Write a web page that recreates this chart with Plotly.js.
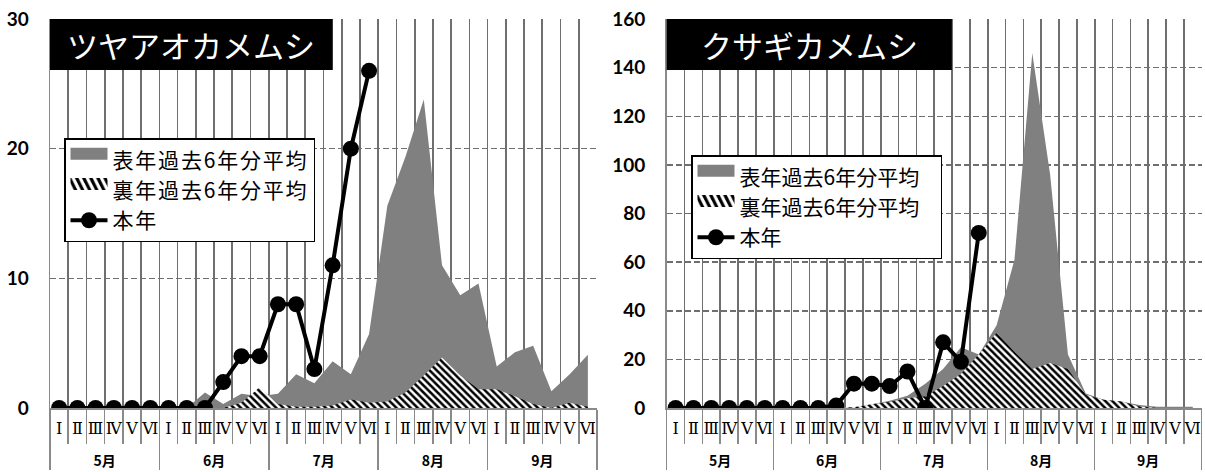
<!DOCTYPE html>
<html><head><meta charset="utf-8">
<script src="https://cdn.plot.ly/plotly-3.0.1.min.js"></script>
<style>html,body{margin:0;padding:0;background:#fff}#chart{width:1205px;height:472px}
.legendfill path{transform:translateY(-6px) scaleY(2);}
.legendtext{letter-spacing:1.8px;}
</style>
</head><body><div id="chart"></div>
<script>
const months = ['5月','6月','7月','8月','9月'];
const romans = ['Ⅰ','Ⅱ','Ⅲ','Ⅳ','Ⅴ','Ⅵ'];
const seriesNames = ['表年過去6年分平均','裏年過去6年分平均','本年'];
const titles = ['ツヤアオカメムシ','クサギカメムシ'];

const tsuyaOmote = [0,0,0,0,0,0, 0,0,1.2,0.3,1.1,0.9, 1.1,2.6,1.9,3.6,2.6,5.7, 15.6,19.4,23.8,11,8.7,9.6, 3.2,4.3,4.8,1.3,2.6,4.1];
const tsuyaUra   = [0,0,0,0,0,0, 0,0,0,0,0.4,1.6, 0.3,0.1,0.1,0.2,0.65,0.4, 0.5,1.2,2.5,3.9,2.5,1.45, 1.45,0.9,0.3,0,0.4,0.1];
const tsuyaHon   = [0,0,0,0,0,0, 0,0,0,2,4,4, 8,8,3,11,20,26];

const kusagiOmote = [0,0,0,0,0,0, 0,0,0,0,0.3,1.5, 3,5,10,16,25,22, 34,61,146,96,22,6, 3.4,2.7,1.2,0.5,0.5,0.5];
const kusagiUra   = [0,0,0,0,0,0, 0,0,0,0,0.3,1.5, 2.5,4,4.8,9,14,22, 31,23,16,18.5,16,5.5, 3.4,2.7,0.6,0,0,0];
const kusagiHon   = [0,0,0,0,0,0, 0,0,0,1,10,10, 9,15,0,27,19,72];

function buildX(n){
  const outer=[], inner=[];
  for(let i=0;i<n;i++){
    outer.push('<br><b>'+months[Math.floor(i/6)]+'</b>');
    inner.push('<span style="font-family:DejaVu Serif;font-size:16px">'+romans[i%6]+'</span>');
  }
  return [outer, inner];
}

const GRID = '#6f6f6f';
function traces(omote, ura, hon, xa, ya, leg){
  return [
    {type:'scatter', mode:'none', x:buildX(omote.length), y:omote, fill:'tozeroy', fillcolor:'#808080',
     name:seriesNames[0], xaxis:xa, yaxis:ya, legend:leg, legendgroup:leg+'a', hoverinfo:'skip'},
    {type:'scatter', mode:'none', x:buildX(ura.length), y:ura, fill:'tozeroy', fillcolor:'white',
     fillpattern:{shape:'\\', fgcolor:'black', bgcolor:'white', size:5, solidity:0.5},
     name:seriesNames[1], xaxis:xa, yaxis:ya, legend:leg, legendgroup:leg+'b', hoverinfo:'skip'},
    {type:'scatter', mode:'lines+markers', x:buildX(hon.length), y:hon, line:{color:'black', width:4},
     marker:{size:16, color:'black'}, name:seriesNames[2], xaxis:xa, yaxis:ya, legend:leg, legendgroup:leg+'c', hoverinfo:'skip'}
  ];
}

const data = [].concat(
  traces(tsuyaOmote, tsuyaUra, tsuyaHon, 'x', 'y', 'legend'),
  traces(kusagiOmote, kusagiUra, kusagiHon, 'x2', 'y2', 'legend2')
);

function xAxis(domain, anchor){
  return {type:'multicategory', domain:domain, anchor:anchor, range:[-0.5,29.5], nticks:60,
    showgrid:true, gridcolor:GRID, gridwidth:1.7, showline:true, linecolor:'#8a8a8a', linewidth:1.5,
    ticks:'outside', ticklen:34, tickcolor:'#8a8a8a', tickwidth:1.5, tickangle:0, ticklabelstandoff:8,
    showdividers:true, dividercolor:'#8a8a8a', dividerwidth:1.5,
    tickfont:{family:'Noto Sans CJK JP', size:14, color:'#000'}, fixedrange:true};
}
function yAxis(range, dtick, anchor){
  return {domain:[0,1], anchor:anchor, range:range, dtick:dtick, showgrid:true, gridcolor:GRID, gridwidth:1.5,
    griddash:'6px,3px', showline:true, linecolor:'#8a8a8a', linewidth:1.5, zeroline:false, ticks:'',
    tickfont:{family:'Lato', size:19, weight:'bold', color:'#000'}, ticklabelstandoff:16, fixedrange:true};
}

const PH = 389; // plot height in px
function py(v){ return (408 - v)/PH; }

const legendBase = {xanchor:'left', yanchor:'top', bgcolor:'white', bordercolor:'black', borderwidth:1.5,
  font:{family:'Noto Sans CJK JP', size:21, color:'#000'}, tracegroupgap:0, traceorder:'grouped', itemwidth:37};

const layout = {
  width:1205, height:472, margin:{l:0, r:0, t:19, b:64},
  paper_bgcolor:'white', plot_bgcolor:'white', showlegend:true,
  xaxis: xAxis([50/1205, 597/1205], 'y'),
  yaxis: yAxis([0,30], 10, 'x'),
  xaxis2: xAxis([666.7/1205, 1201.7/1205], 'y2'),
  yaxis2: yAxis([0,160], 20, 'x2'),
  legend: Object.assign({}, legendBase, {x:64/1205, y:py(138)}),
  legend2: Object.assign({}, legendBase, {x:691/1205, y:py(155)}),
  shapes:[
    {type:'rect', xref:'x domain', yref:'y domain', x0:0, x1:0.517, y0:0.869, y1:1, fillcolor:'black', line:{width:0}},
    {type:'rect', xref:'x2 domain', yref:'y2 domain', x0:0, x1:0.533, y0:0.869, y1:1, fillcolor:'black', line:{width:0}}
  ],
  annotations:[
    {text:titles[0], xref:'x domain', yref:'y domain', x:0.2585, y:0.934, xanchor:'center', yanchor:'middle', showarrow:false,
     font:{family:'Noto Sans CJK JP', size:31, color:'white'}},
    {text:titles[1], xref:'x2 domain', yref:'y2 domain', x:0.2665, y:0.934, xanchor:'center', yanchor:'middle', showarrow:false,
     font:{family:'Noto Sans CJK JP', size:31, color:'white'}}
  ]
};

Plotly.newPlot('chart', data, layout, {staticPlot:true});
</script></body></html>
